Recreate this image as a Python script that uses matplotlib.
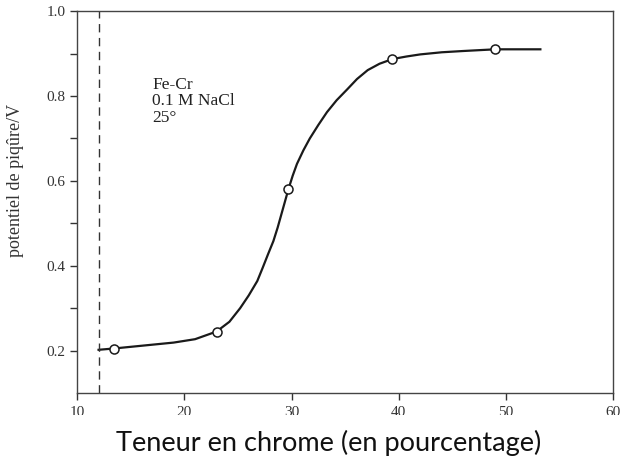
import numpy as np
import matplotlib.pyplot as plt
from matplotlib.patches import Rectangle

# measured points (open circles)
cr_pts = [13.4, 23.0, 29.7, 39.4, 49.0]
pot_pts = [0.205, 0.245, 0.58, 0.887, 0.91]

# curve
cr_curve = [12.0, 13.4, 15.0, 17.0, 19.0, 21.0, 23.0, 24.2, 25.2, 26.0, 26.8,
            27.3, 27.8, 28.3, 28.7, 29.2, 29.7, 30.1, 30.5, 31.1, 31.7, 32.5,
            33.3, 34.2, 35.2, 36.1, 37.1, 38.2, 39.4, 40.7, 42.0, 44.0, 46.0,
            49.0, 51.0, 53.2]
pot_curve = [0.202, 0.205, 0.209, 0.214, 0.219, 0.227, 0.245, 0.268, 0.30, 0.33, 0.364,
             0.395, 0.427, 0.458, 0.49, 0.535, 0.58, 0.612, 0.64, 0.672, 0.70, 0.732,
             0.762, 0.79, 0.816, 0.84, 0.861, 0.876, 0.887, 0.893, 0.898, 0.903, 0.906,
             0.91, 0.91, 0.91]

cr_limit = 12.0

yticks = [0.2, 0.4, 0.6, 0.8, 1.0]
yminor = [0.3, 0.5, 0.7, 0.9]
xticks = [10, 20, 30, 40, 50, 60]

fig = plt.figure(figsize=(6.22, 4.63), dpi=100)
ax = fig.add_axes([0.124, 0.151, 0.862, 0.825])

ax.plot(cr_curve, pot_curve, color='#1a1a1a', lw=1.6, zorder=2)
ax.plot(cr_pts, pot_pts, 'o', ms=6.5, mfc='white', mec='#1a1a1a', mew=1.1, zorder=3)
ax.axvline(cr_limit, color='#333333', lw=1.0, ls=(0, (6, 4)))

ax.set_xlim(10, 60)
ax.set_ylim(0.1, 1.0)
ax.set_xticks(xticks)
ax.set_yticks(yticks)
ax.set_yticks(yminor, minor=True)
ax.set_yticklabels(['0.2', '0.4', '0.6', '0.8', '1.0'])
for lab in ax.get_xticklabels() + ax.get_yticklabels():
    lab.set_family('Liberation Serif')
    lab.set_fontsize(11)
    lab.set_color('#333333')
ax.tick_params(direction='out', length=5, width=1, color='#333333')
ax.tick_params(which='minor', direction='out', length=5, width=1, color='#333333')
ax.tick_params(axis='x', pad=4)
for s in ax.spines.values():
    s.set_color('#444444')
    s.set_linewidth(1.0)

ax.text(17.0, 0.845, 'Fe-Cr\n0.1 M NaCl\n25°', family='Liberation Serif', fontsize=12.5,
        color='#222222', va='top', linespacing=1.05)

ax.set_ylabel('potentiel de piqûre/V', family='Liberation Serif', fontsize=13,
              color='#333333')
ax.yaxis.set_label_coords(-0.1, 0.557)

# the scan is cut just below the tick labels
fig.patches.append(Rectangle((0, 0), 1, 0.104, transform=fig.transFigure,
                             facecolor='white', edgecolor='none', zorder=5))
fig.text(0.529, 0.043, 'Teneur en chrome (en pourcentage)', family='Lato', fontsize=19.5,
         color='#111111', ha='center', va='center', zorder=6)

plt.savefig('out.png', dpi=100)
